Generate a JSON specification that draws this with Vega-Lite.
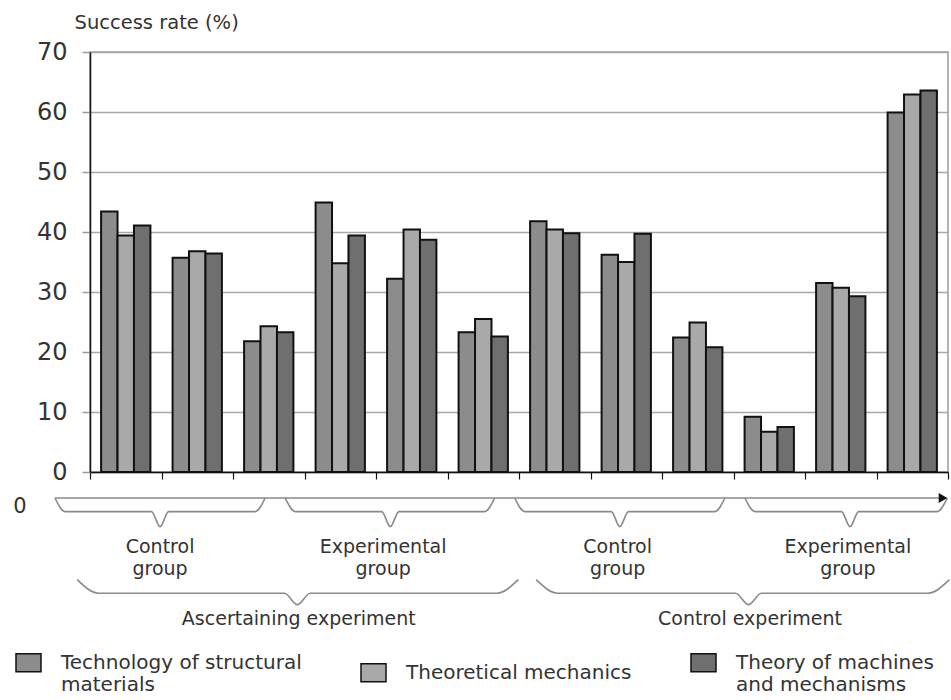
{
  "$schema": "https://vega.github.io/schema/vega-lite/v6.json",
  "width": 858,
  "height": 420,
  "autosize": {"type": "none"},
  "padding": {"left": 90, "top": 52, "right": 3, "bottom": 228},
  "background": "white",
  "config": {
    "font": "DejaVu Sans",
    "view": {"stroke": "#9a9a9a", "strokeWidth": 1.5}
  },
  "datasets": {
    "rates": [
      {"group": 1, "subject": "Technology of structural materials", "rate": 43.4},
      {"group": 1, "subject": "Theoretical mechanics", "rate": 39.4},
      {"group": 1, "subject": "Theory of machines and mechanisms", "rate": 41.1},
      {"group": 2, "subject": "Technology of structural materials", "rate": 35.7},
      {"group": 2, "subject": "Theoretical mechanics", "rate": 36.8},
      {"group": 2, "subject": "Theory of machines and mechanisms", "rate": 36.4},
      {"group": 3, "subject": "Technology of structural materials", "rate": 21.8},
      {"group": 3, "subject": "Theoretical mechanics", "rate": 24.3},
      {"group": 3, "subject": "Theory of machines and mechanisms", "rate": 23.3},
      {"group": 4, "subject": "Technology of structural materials", "rate": 44.9},
      {"group": 4, "subject": "Theoretical mechanics", "rate": 34.8},
      {"group": 4, "subject": "Theory of machines and mechanisms", "rate": 39.4},
      {"group": 5, "subject": "Technology of structural materials", "rate": 32.2},
      {"group": 5, "subject": "Theoretical mechanics", "rate": 40.4},
      {"group": 5, "subject": "Theory of machines and mechanisms", "rate": 38.7},
      {"group": 6, "subject": "Technology of structural materials", "rate": 23.3},
      {"group": 6, "subject": "Theoretical mechanics", "rate": 25.5},
      {"group": 6, "subject": "Theory of machines and mechanisms", "rate": 22.6},
      {"group": 7, "subject": "Technology of structural materials", "rate": 41.8},
      {"group": 7, "subject": "Theoretical mechanics", "rate": 40.4},
      {"group": 7, "subject": "Theory of machines and mechanisms", "rate": 39.8},
      {"group": 8, "subject": "Technology of structural materials", "rate": 36.2},
      {"group": 8, "subject": "Theoretical mechanics", "rate": 35.0},
      {"group": 8, "subject": "Theory of machines and mechanisms", "rate": 39.7},
      {"group": 9, "subject": "Technology of structural materials", "rate": 22.4},
      {"group": 9, "subject": "Theoretical mechanics", "rate": 24.9},
      {"group": 9, "subject": "Theory of machines and mechanisms", "rate": 20.8},
      {"group": 10, "subject": "Technology of structural materials", "rate": 9.2},
      {"group": 10, "subject": "Theoretical mechanics", "rate": 6.7},
      {"group": 10, "subject": "Theory of machines and mechanisms", "rate": 7.5},
      {"group": 11, "subject": "Technology of structural materials", "rate": 31.5},
      {"group": 11, "subject": "Theoretical mechanics", "rate": 30.7},
      {"group": 11, "subject": "Theory of machines and mechanisms", "rate": 29.3},
      {"group": 12, "subject": "Technology of structural materials", "rate": 59.9},
      {"group": 12, "subject": "Theoretical mechanics", "rate": 62.9},
      {"group": 12, "subject": "Theory of machines and mechanisms", "rate": 63.6}
    ],
    "braces": [
      {"brace": "b1", "x": -0.49, "y": -4.33}, {"brace": "b1", "x": -0.35, "y": -6.6}, {"brace": "b1", "x": 0.86, "y": -6.6}, {"brace": "b1", "x": 0.98, "y": -9.1}, {"brace": "b1", "x": 1.10, "y": -6.6}, {"brace": "b1", "x": 2.31, "y": -6.6}, {"brace": "b1", "x": 2.45, "y": -4.33},
      {"brace": "b2", "x": 2.73, "y": -4.33}, {"brace": "b2", "x": 2.87, "y": -6.6}, {"brace": "b2", "x": 4.08, "y": -6.6}, {"brace": "b2", "x": 4.2, "y": -9.1}, {"brace": "b2", "x": 4.32, "y": -6.6}, {"brace": "b2", "x": 5.52, "y": -6.6}, {"brace": "b2", "x": 5.66, "y": -4.33},
      {"brace": "b3", "x": 5.94, "y": -4.33}, {"brace": "b3", "x": 6.08, "y": -6.6}, {"brace": "b3", "x": 7.29, "y": -6.6}, {"brace": "b3", "x": 7.41, "y": -9.1}, {"brace": "b3", "x": 7.53, "y": -6.6}, {"brace": "b3", "x": 8.74, "y": -6.6}, {"brace": "b3", "x": 8.88, "y": -4.33},
      {"brace": "b4", "x": 9.16, "y": -4.33}, {"brace": "b4", "x": 9.30, "y": -6.6}, {"brace": "b4", "x": 10.51, "y": -6.6}, {"brace": "b4", "x": 10.63, "y": -9.1}, {"brace": "b4", "x": 10.75, "y": -6.6}, {"brace": "b4", "x": 11.85, "y": -6.6}, {"brace": "b4", "x": 11.99, "y": -4.33},
      {"brace": "b5", "x": -0.18, "y": -17.95}, {"brace": "b5", "x": 0.12, "y": -20.2}, {"brace": "b5", "x": 2.72, "y": -20.2}, {"brace": "b5", "x": 2.9, "y": -22.1}, {"brace": "b5", "x": 3.08, "y": -20.2}, {"brace": "b5", "x": 5.69, "y": -20.2}, {"brace": "b5", "x": 5.99, "y": -17.95},
      {"brace": "b6", "x": 6.24, "y": -17.95}, {"brace": "b6", "x": 6.54, "y": -20.2}, {"brace": "b6", "x": 9.03, "y": -20.2}, {"brace": "b6", "x": 9.21, "y": -22.1}, {"brace": "b6", "x": 9.39, "y": -20.2}, {"brace": "b6", "x": 11.72, "y": -20.2}, {"brace": "b6", "x": 12.02, "y": -17.95}
    ],
    "labels": [
      {"x": 0.98, "y": -10.95, "text": "Control\ngroup"},
      {"x": 4.1, "y": -10.95, "text": "Experimental\ngroup"},
      {"x": 7.38, "y": -10.95, "text": "Control\ngroup"},
      {"x": 10.6, "y": -10.95, "text": "Experimental\ngroup"},
      {"x": 2.92, "y": -22.95, "text": "Ascertaining experiment"},
      {"x": 9.23, "y": -22.95, "text": "Control experiment"}
    ],
    "arrow": [
      {"x": -0.49, "x2": 11.93, "head": 11.93, "y": -4.33}
    ],
    "origin": [
      {"x": -0.98, "y": -4.0, "text": "0"}
    ]
  },
  "layer": [
    {
      "data": {"name": "rates"},
      "mark": {"type": "bar", "stroke": "#111111", "strokeWidth": 2},
      "encoding": {
        "x": {
          "field": "group", "type": "ordinal",
          "scale": {"paddingInner": 0, "paddingOuter": 0},
          "axis": {"labels": false, "title": null, "grid": false, "domainColor": "#111111", "domainWidth": 1.5, "tickColor": "#111111", "tickWidth": 1.2, "tickSize": 7, "tickBand": "extent"}
        },
        "xOffset": {
          "field": "subject", "type": "nominal",
          "sort": ["Technology of structural materials", "Theoretical mechanics", "Theory of machines and mechanisms"],
          "scale": {"paddingInner": 0, "paddingOuter": 0.675}
        },
        "y": {
          "field": "rate", "type": "quantitative",
          "scale": {"domain": [0, 70], "nice": false},
          "axis": {
            "title": "Success rate (%)", "titleAngle": 0, "titleAlign": "left", "titleBaseline": "middle",
            "titleX": -16, "titleY": -30, "titleFontSize": 19.5, "titleFontWeight": "normal", "titleColor": "#333333",
            "values": [0, 10, 20, 30, 40, 50, 60, 70],
            "labelFontSize": 24, "labelColor": "#333333", "labelPadding": 15,
            "domainColor": "#111111", "domainWidth": 1.5,
            "tickColor": "#9a9a9a", "tickSize": 8, "tickWidth": 1.5,
            "grid": true, "gridColor": "#a8a8a8", "gridWidth": 1.5
          }
        },
        "color": {
          "field": "subject", "type": "nominal",
          "sort": ["Technology of structural materials", "Theoretical mechanics", "Theory of machines and mechanisms"],
          "scale": {
            "domain": ["Technology of structural materials", "Theoretical mechanics", "Theory of machines and mechanisms"],
            "range": ["#8c8c8c", "#a9a9a9", "#6f6f6f"]
          },
          "legend": {
            "title": null, "orient": "none", "legendX": -75, "legendY": 597, "direction": "horizontal",
            "padding": 0,
            "symbolType": "M-1,-0.72L1,-0.72L1,0.72L-1,0.72Z", "symbolSize": 625,
            "symbolStrokeColor": "#111111", "symbolStrokeWidth": 1.5, "symbolOpacity": 1,
            "labelFontSize": 20, "labelColor": "#333333", "labelOffset": 19, "labelLimit": 500,
            "columnPadding": 56,
            "labelExpr": "datum.label == 'Technology of structural materials' ? ['Technology of structural', 'materials'] : datum.label == 'Theory of machines and mechanisms' ? ['Theory of machines', 'and mechanisms'] : datum.label"
          }
        }
      }
    },
    {
      "layer": [
        {
          "data": {"name": "braces"},
          "mark": {"type": "line", "interpolate": "monotone", "stroke": "#8a8a8a", "strokeWidth": 1.6},
          "encoding": {
            "x": {"field": "x", "type": "quantitative", "scale": {"domain": [0, 12], "nice": false, "zero": false}, "axis": null},
            "y": {"field": "y", "type": "quantitative", "scale": {"domain": [0, 70], "nice": false}, "axis": null},
            "detail": {"field": "brace", "type": "nominal"}
          }
        },
        {
          "data": {"name": "arrow"},
          "mark": {"type": "rule", "stroke": "#8a8a8a", "strokeWidth": 1.6},
          "encoding": {
            "x": {"field": "x", "type": "quantitative", "scale": {"domain": [0, 12], "nice": false, "zero": false}, "axis": null},
            "x2": {"field": "x2"},
            "y": {"field": "y", "type": "quantitative", "scale": {"domain": [0, 70], "nice": false}, "axis": null}
          }
        },
        {
          "data": {"name": "arrow"},
          "mark": {"type": "point", "shape": "triangle-right", "filled": true, "color": "#111111", "opacity": 1, "size": 100},
          "encoding": {
            "x": {"field": "head", "type": "quantitative", "scale": {"domain": [0, 12], "nice": false, "zero": false}, "axis": null},
            "y": {"field": "y", "type": "quantitative", "scale": {"domain": [0, 70], "nice": false}, "axis": null}
          }
        },
        {
          "data": {"name": "labels"},
          "mark": {"type": "text", "align": "center", "baseline": "top", "fontSize": 19, "lineBreak": "\n", "lineHeight": 22, "color": "#333333"},
          "encoding": {
            "x": {"field": "x", "type": "quantitative", "scale": {"domain": [0, 12], "nice": false, "zero": false}, "axis": null},
            "y": {"field": "y", "type": "quantitative", "scale": {"domain": [0, 70], "nice": false}, "axis": null},
            "text": {"field": "text"}
          }
        },
        {
          "data": {"name": "origin"},
          "mark": {"type": "text", "align": "center", "baseline": "top", "fontSize": 21, "color": "#333333"},
          "encoding": {
            "x": {"field": "x", "type": "quantitative", "scale": {"domain": [0, 12], "nice": false, "zero": false}, "axis": null},
            "y": {"field": "y", "type": "quantitative", "scale": {"domain": [0, 70], "nice": false}, "axis": null},
            "text": {"field": "text"}
          }
        }
      ]
    }
  ],
  "resolve": {"scale": {"x": "independent"}, "axis": {"x": "independent", "y": "independent"}}
}
